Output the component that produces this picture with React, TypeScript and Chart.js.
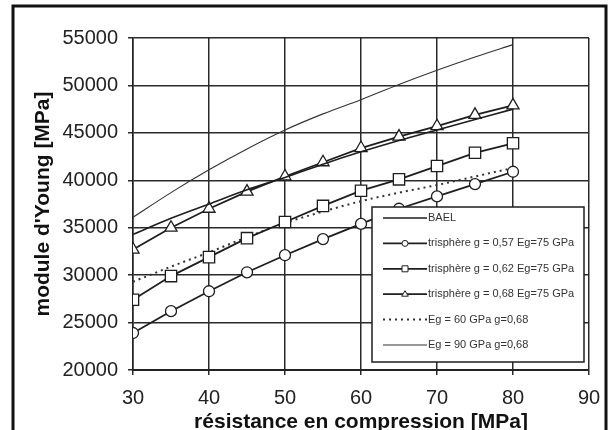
import React, { useEffect, useRef } from 'react';
import { Chart, registerables } from 'chart.js';

Chart.register(...registerables);

const strength = [30, 35, 40, 45, 50, 55, 60, 65, 70, 75, 80];
const bael = [34300, 36000, 37500, 39000, 40300, 41700, 43000, 44200, 45300, 46400, 47500];
const tri057 = [23900, 26200, 28300, 30300, 32100, 33800, 35400, 37000, 38300, 39600, 40900];
const tri062 = [27400, 29900, 31900, 33900, 35600, 37300, 38900, 40100, 41500, 42900, 43900];
const tri068 = [32700, 35000, 37000, 38800, 40400, 41900, 43400, 44600, 45700, 46900, 47900];
const eg60 = [29300, 30900, 32400, 34000, 35500, 36700, 37800, 38700, 39500, 40400, 41300];
const eg90 = [36100, 38700, 41100, 43300, 45300, 47000, 48500, 50100, 51600, 53000, 54300];

const seriesLabels = [
  'BAEL',
  'trisphère g = 0,57 Eg=75 GPa',
  'trisphère g = 0,62 Eg=75 GPa',
  'trisphère g = 0,68 Eg=75 GPa',
  'Eg = 60 GPa g=0,68',
  'Eg = 90 GPa g=0,68',
];

const xTitle = 'résistance en compression [MPa]';
const yTitle = "module d'Young [MPa]";

const FONT = "'Liberation Sans', Arial, sans-serif";
const INK = '#1e1e1e';

const toPts = (ys: number[]) => strength.map((x, i) => ({ x, y: ys[i] }));

const bgPlugin = {
  id: 'bg',
  beforeDraw(chart: any) {
    const { ctx, width, height } = chart;
    ctx.save();
    ctx.fillStyle = '#fff';
    ctx.fillRect(0, 0, width, height);
    ctx.restore();
  },
  afterDraw(chart: any) {
    const { ctx } = chart;
    ctx.save();
    ctx.strokeStyle = '#111';
    ctx.lineWidth = 3;
    ctx.beginPath();
    ctx.moveTo(13, 440);
    ctx.lineTo(13, 6);
    ctx.lineTo(606, 6);
    ctx.lineTo(606, 440);
    ctx.stroke();
    ctx.restore();
  },
};

const legendPlugin = {
  id: 'boxLegend',
  afterDraw(chart: any) {
    const { ctx } = chart;
    const bx = 372, by = 207, bw = 212, bh = 155;
    ctx.save();
    ctx.fillStyle = '#fff';
    ctx.fillRect(bx, by, bw, bh);
    ctx.strokeStyle = INK;
    ctx.lineWidth = 1.5;
    ctx.strokeRect(bx, by, bw, bh);
    chart.data.datasets.forEach((ds: any, i: number) => {
      const y = 218 + i * 25.4;
      ctx.save();
      ctx.strokeStyle = ds.borderColor;
      ctx.lineWidth = ds.borderWidth;
      ctx.setLineDash(ds.borderDash || []);
      ctx.beginPath();
      ctx.moveTo(383, y);
      ctx.lineTo(427, y);
      ctx.stroke();
      ctx.restore();
      const mx = 405;
      const st = ds.pointStyle;
      if (ds.pointRadius > 0) {
        ctx.save();
        ctx.fillStyle = '#fff';
        ctx.strokeStyle = INK;
        ctx.lineWidth = 1;
        ctx.beginPath();
        if (st === 'circle') {
          ctx.arc(mx, y, 3, 0, Math.PI * 2);
        } else if (st === 'rect') {
          ctx.rect(mx - 3, y - 3, 6, 6);
        } else if (st === 'triangle') {
          ctx.moveTo(mx, y - 3.5);
          ctx.lineTo(mx + 3.3, y + 2);
          ctx.lineTo(mx - 3.3, y + 2);
          ctx.closePath();
        }
        ctx.fill();
        ctx.stroke();
        ctx.restore();
      }
      ctx.fillStyle = '#333';
      ctx.font = `11px ${FONT}`;
      ctx.textBaseline = 'middle';
      ctx.textAlign = 'left';
      ctx.fillText(ds.label, 428, y);
    });
    ctx.restore();
  },
};

export default function App() {
  const ref = useRef<HTMLCanvasElement>(null);
  useEffect(() => {
    document.body.style.margin = '0';
    const canvas = ref.current;
    if (!canvas) return;
    const chart = new Chart(canvas, {
      type: 'line',
      data: {
        datasets: [
          {
            label: seriesLabels[0],
            data: toPts(bael),
            borderColor: INK,
            borderWidth: 1.6,
            pointRadius: 0,
            cubicInterpolationMode: 'monotone',
          },
          {
            label: seriesLabels[1],
            data: toPts(tri057),
            borderColor: INK,
            borderWidth: 1.8,
            pointStyle: 'circle',
            pointRadius: 5.5,
            pointBackgroundColor: '#fff',
            pointBorderColor: INK,
            pointBorderWidth: 1.3,
          },
          {
            label: seriesLabels[2],
            data: toPts(tri062),
            borderColor: INK,
            borderWidth: 1.8,
            pointStyle: 'rect',
            pointRadius: 8,
            pointBackgroundColor: '#fff',
            pointBorderColor: INK,
            pointBorderWidth: 1.3,
          },
          {
            label: seriesLabels[3],
            data: toPts(tri068),
            borderColor: INK,
            borderWidth: 1.8,
            pointStyle: 'triangle',
            pointRadius: 7,
            pointBackgroundColor: '#fff',
            pointBorderColor: INK,
            pointBorderWidth: 1.3,
          },
          {
            label: seriesLabels[4],
            data: toPts(eg60),
            borderColor: '#333',
            borderWidth: 2,
            borderDash: [2, 4],
            pointRadius: 0,
            cubicInterpolationMode: 'monotone',
          },
          {
            label: seriesLabels[5],
            data: toPts(eg90),
            borderColor: '#333',
            borderWidth: 1.1,
            pointRadius: 0,
            cubicInterpolationMode: 'monotone',
          },
        ] as any,
      },
      options: {
        responsive: false,
        animation: false,
        devicePixelRatio: 1,
        layout: { padding: { left: 0, right: 25, top: 38, bottom: 0 } },
        plugins: {
          legend: { display: false },
          tooltip: { enabled: false },
        },
        scales: {
          x: {
            type: 'linear',
            min: 30,
            max: 90,
            ticks: {
              stepSize: 10,
              color: '#222',
              font: { family: FONT, size: 20 },
              padding: 11,
              maxRotation: 0,
            },
            grid: { color: '#2a2a2a', lineWidth: 1.5, tickLength: 5 },
            border: { color: '#222', width: 2 },
            title: {
              display: true,
              text: xTitle,
              color: '#111',
              font: { family: FONT, size: 21, weight: 'bold', lineHeight: 0.75 },
              padding: { top: 0, bottom: 0 },
            },
            afterFit: (s: any) => {
              s.height = 60;
            },
          },
          y: {
            type: 'linear',
            min: 20000,
            max: 55000,
            ticks: {
              stepSize: 5000,
              color: '#222',
              font: { family: FONT, size: 20 },
              padding: 10,
              callback: (v: any) => String(v),
            },
            grid: { color: '#2a2a2a', lineWidth: 1.5, tickLength: 5 },
            border: { color: '#222', width: 1.5 },
            title: {
              display: true,
              text: yTitle,
              color: '#111',
              font: { family: FONT, size: 21, weight: 'bold' },
              padding: { top: 31, bottom: 0 },
            },
            afterFit: (s: any) => {
              s.width = 133;
            },
          },
        },
      } as any,
      plugins: [bgPlugin, legendPlugin],
    });
    return () => chart.destroy();
  }, []);
  return (
    <div style={{ position: 'fixed', left: 0, top: 0, width: 614, height: 430, background: '#fff' }}>
      <canvas ref={ref} width={614} height={430} style={{ display: 'block' }} />
    </div>
  );
}
